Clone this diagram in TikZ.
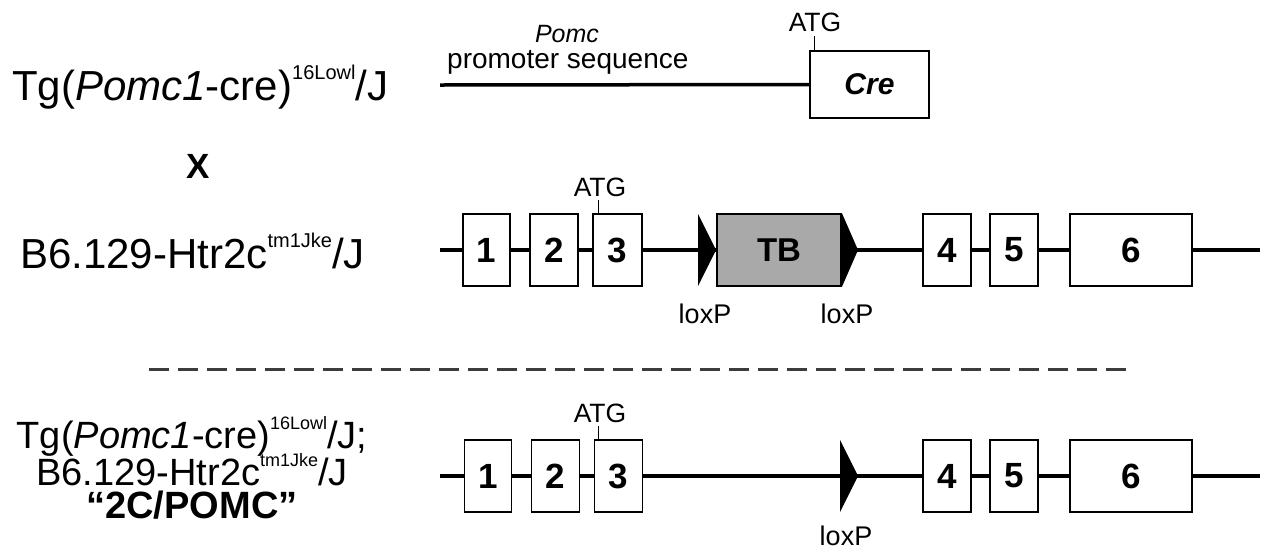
\documentclass[tikz,border=0pt]{standalone}
\usepackage{fontspec}
\setmainfont{Liberation Sans}
\newcommand\supA[1]{\raisebox{21pt}{\fontsize{20}{20}\selectfont #1}}
\newcommand\supB[1]{\raisebox{19pt}{\fontsize{18}{18}\selectfont #1}}
\definecolor{tbgray}{HTML}{A9A9A9}
\definecolor{dashgray}{HTML}{3C3C3C}
\begin{document}
\begin{tikzpicture}[x=1pt,y=-1pt,
  backbone/.style={line width=3.5pt},
  exon/.style={draw, line width=1.8pt, fill=white, minimum height=72pt, inner sep=0pt, font=\fontsize{35}{35}\selectfont\bfseries},
  small/.style={font=\fontsize{27}{27}\selectfont, inner sep=0pt},
  atg/.style={font=\fontsize{26.5}{26.5}\selectfont, inner sep=0pt, anchor=base},
  tick/.style={line width=1pt},
  bigl/.style={font=\fontsize{42}{42}\selectfont, inner sep=0pt},
  midl/.style={font=\fontsize{38}{38}\selectfont, inner sep=0pt, anchor=base},
  loxtri/.style={fill=black}]
\useasboundingbox (0,0) rectangle (1261,550);

% ---------- left labels ----------
\node[bigl, anchor=base west] (lab1) at (12,100) {Tg(\textit{Pomc1}-cre)\supA{16Lowl}/J};
\node[font=\fontsize{35}{35}\selectfont\bfseries, inner sep=0pt] (cross) at (198,166) {X};
\node[bigl, anchor=base west] (lab2) at (20,268) {B6.129-Htr2c\supA{tm1Jke}/J};
\node[midl] (lab3a) at (192,448) {Tg(\textit{Pomc1}-cre)\supB{16Lowl}/J;};
\node[midl] (lab3b) at (192,485) {B6.129-Htr2c\supB{tm1Jke}/J};
\node[midl, font=\fontsize{38}{38}\selectfont\bfseries] (lab3c) at (192,518) {“2C/POMC”};

% ---------- row 1 ----------
\coordinate (r1s) at (440,85);
\node[exon, minimum width=119pt, minimum height=67pt, font=\fontsize{30}{30}\selectfont\bfseries\itshape] (cre) at (869.5,84.5) {Cre};
\draw[backbone] (r1s) -- (cre.west);
\draw[tick] ([xshift=5pt]cre.north west) -- ++(0,-14);
\node[atg] (atg1) at (815,31) {ATG};
\node[small, anchor=base, font=\fontsize{25}{25}\selectfont\itshape] (pomc) at (567,42) {Pomc};
\node[small, anchor=base west, font=\fontsize{28}{28}\selectfont] (prom) at (447,68) {promoter sequence};

% ---------- row 2 ----------
\coordinate (r2s) at (440,250);
\coordinate (r2e) at (1260,250);
\draw[backbone] (r2s) -- (r2e);
\node[exon, minimum width=47pt] (a1) at (486.5,250) {1};
\node[exon, minimum width=48pt] (a2) at (554,250) {2};
\node[exon, minimum width=49pt] (a3) at (617.5,250) {3};
\node[exon, minimum width=124pt, fill=tbgray, font=\fontsize{33}{33}\selectfont\bfseries] (tb) at (779,250) {TB};
\node[exon, minimum width=48pt] (a4) at (947,250) {4};
\node[exon, minimum width=48pt] (a5) at (1014,250) {5};
\node[exon, minimum width=122pt] (a6) at (1131,250) {6};
\fill[loxtri] (698,214) -- (698,286) -- (tb.west) -- cycle;
\fill[loxtri] (tb.north east) -- (tb.south east) -- (858,250) -- cycle;
\draw[tick] ([xshift=6pt]a3.north west) -- ++(0,-13);
\node[atg] (atg2) at (600,196) {ATG};
\node[small, anchor=base] (lox1) at (705,323) {loxP};
\node[small, anchor=base] (lox2) at (847,323) {loxP};

% ---------- dashed separator ----------
\coordinate (d1) at (149,369);
\coordinate (d2) at (1135,369);
\draw[dashgray, line width=3pt, dash pattern=on 20pt off 9pt] (d1) -- (d2);

% ---------- row 3 ----------
\coordinate (r3s) at (440,476);
\coordinate (r3e) at (1260,476);
\draw[backbone] (r3s) -- (r3e);
\node[exon, minimum width=47pt] (b1) at (488,476) {1};
\node[exon, minimum width=48pt] (b2) at (555.5,476) {2};
\node[exon, minimum width=48pt] (b3) at (618.5,476) {3};
\node[exon, minimum width=48pt] (b4) at (947,476) {4};
\node[exon, minimum width=48pt] (b5) at (1014,476) {5};
\node[exon, minimum width=122pt] (b6) at (1131,476) {6};
\fill[loxtri] (840,440) -- (840,512) -- (858,476) -- cycle;
\draw[tick] ([xshift=5pt]b3.north west) -- ++(0,-13);
\node[atg] (atg3) at (600,422) {ATG};
\node[small, anchor=base] (lox3) at (846,545) {loxP};
\end{tikzpicture}
\end{document}
